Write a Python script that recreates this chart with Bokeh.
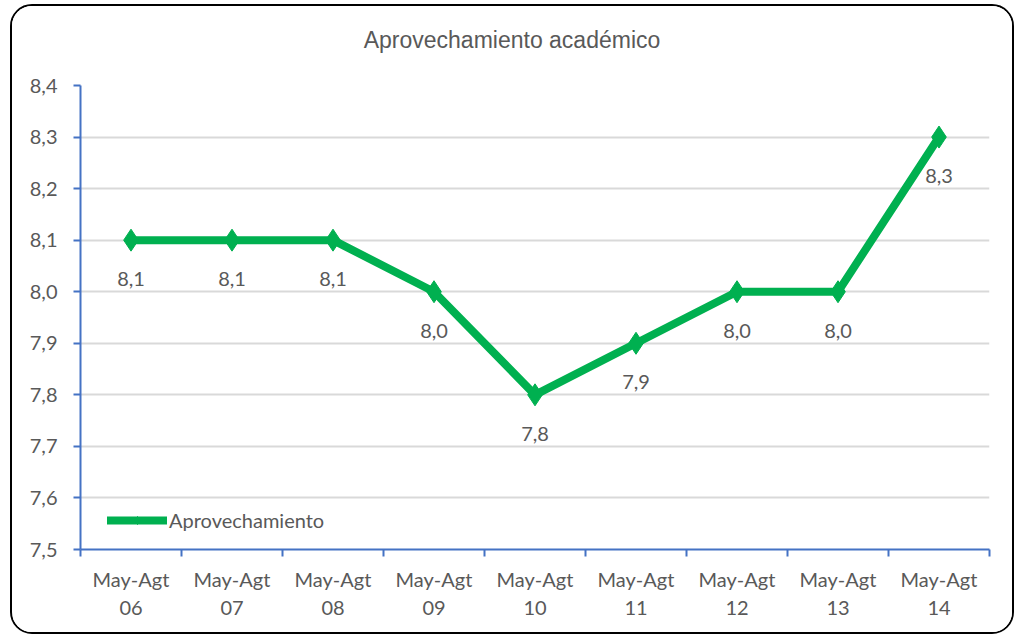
from bokeh.plotting import figure
from bokeh.models import FixedTicker, Legend, LegendItem, ColumnDataSource, Div
from bokeh.layouts import column
from bokeh.core.properties import value
from bokeh.embed import file_html
from bokeh.resources import INLINE

title = "Aprovechamiento académico"
series_name = "Aprovechamiento"
categories = ["May-Agt\n06", "May-Agt\n07", "May-Agt\n08", "May-Agt\n09", "May-Agt\n10",
              "May-Agt\n11", "May-Agt\n12", "May-Agt\n13", "May-Agt\n14"]
values = [8.1, 8.1, 8.1, 8.0, 7.8, 7.9, 8.0, 8.0, 8.3]
y_ticks = [7.5, 7.6, 7.7, 7.8, 7.9, 8.0, 8.1, 8.2, 8.3, 8.4]
y_tick_labels = ["7,5", "7,6", "7,7", "7,8", "7,9", "8,0", "8,1", "8,2", "8,3", "8,4"]

FONT = "Lato"
TFONT = "Liberation Sans"
TXT = "#595959"
GREEN = "#00B050"
AXIS = "#4472C4"

W = 1000
DIV_H = 60
H = 626 - DIV_H
xs = [i + 0.5 for i in range(len(categories))]
labels = [f"{v:.1f}".replace(".", ",") for v in values]
src = ColumnDataSource(dict(x=xs, y=values, lab=labels))

head = Div(text=title, width=W, height=DIV_H, margin=0,
           styles={"text-align": "center", "font-family": TFONT, "font-size": "23px",
                   "line-height": "28px", "color": TXT, "padding-top": "20px",
                   "box-sizing": "border-box", "background": "white"})

p = figure(width=W, height=H, output_backend="svg", toolbar_location=None,
           x_range=(0, len(categories)), y_range=(7.5, 8.4),
           min_border_left=68, min_border_right=23, min_border_top=79 - DIV_H, min_border_bottom=83)
p.outline_line_color = None
p.background_fill_color = "white"
p.border_fill_color = "white"

# x axis
p.xaxis.ticker = FixedTicker(ticks=xs, minor_ticks=list(range(len(categories) + 1)))
p.xaxis.major_label_overrides = {x: c for x, c in zip(xs, categories)}
p.xaxis.major_tick_line_color = None
p.xaxis.minor_tick_line_color = AXIS
p.xaxis.minor_tick_line_width = 2
p.xaxis.minor_tick_out = 7
p.xaxis.minor_tick_in = 0
p.xaxis.axis_line_color = AXIS
p.xaxis.axis_line_width = 2
p.xaxis.major_label_text_font = FONT
p.xaxis.major_label_text_font_size = "20px"
p.xaxis.major_label_text_color = TXT
p.xaxis.major_label_standoff = 10

# y axis
p.yaxis.ticker = FixedTicker(ticks=y_ticks, minor_ticks=[])
p.yaxis.major_label_overrides = {t: l for t, l in zip(y_ticks, y_tick_labels)}
p.yaxis.major_tick_line_color = AXIS
p.yaxis.major_tick_line_width = 2
p.yaxis.major_tick_out = 7
p.yaxis.major_tick_in = 0
p.yaxis.axis_line_color = AXIS
p.yaxis.axis_line_width = 2
p.yaxis.major_label_text_font = FONT
p.yaxis.major_label_text_font_size = "20px"
p.yaxis.major_label_text_color = TXT
p.yaxis.major_label_standoff = 16

p.xgrid.grid_line_color = None
p.ygrid.grid_line_color = "#D9D9D9"
p.ygrid.grid_line_width = 2

ln = p.line("x", "y", source=src, line_color=GREEN, line_width=8, line_join="round", line_cap="round")
mk = p.scatter("x", "y", source=src, marker="diamond", size=22, fill_color=GREEN, line_color=GREEN)
p.text("x", "y", text="lab", source=src, y_offset=39, text_align="center", text_baseline="middle",
       text_font=value(FONT), text_font_size="20px", text_color=TXT)

legend = Legend(items=[LegendItem(label=series_name, renderers=[ln, mk])],
                location=(27, 17), glyph_width=60, glyph_height=20,
                label_text_font=FONT, label_text_font_size="20px", label_text_color=TXT,
                background_fill_alpha=0, border_line_color=None, padding=4, label_standoff=2)
p.add_layout(legend)

layout = column(head, p, spacing=0,
                styles={"border": "2px solid black", "border-radius": "22px", "overflow": "hidden",
                        "margin-left": "10px", "margin-top": "4px", "background": "white"})

open("out.html", "w").write(file_html(layout, INLINE))
